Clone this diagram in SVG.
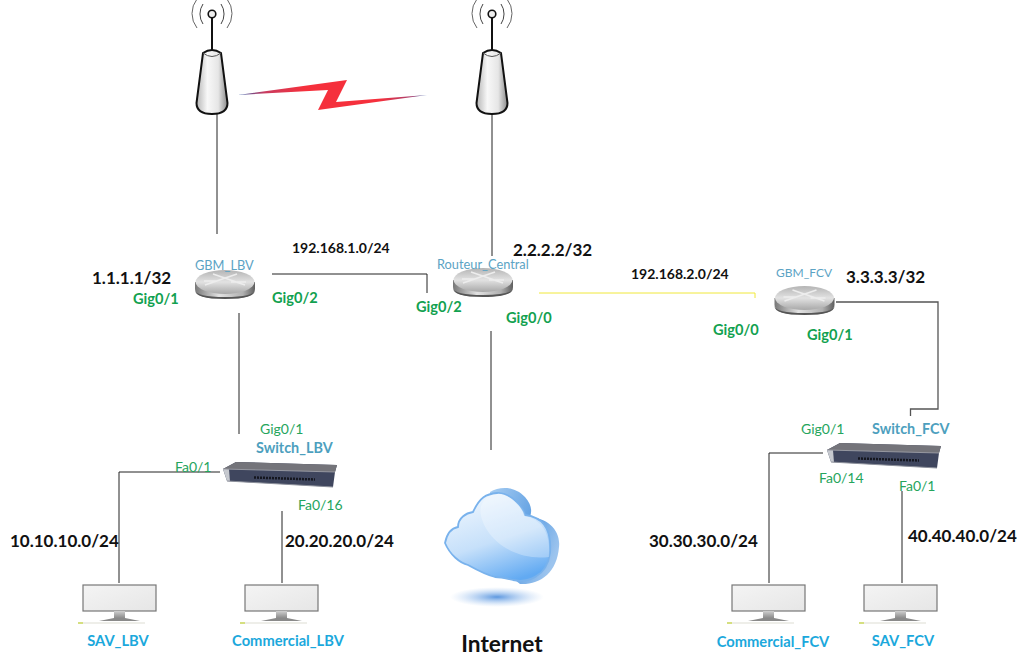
<svg xmlns="http://www.w3.org/2000/svg" width="1026" height="672" viewBox="0 0 1026 672">
<style>
text{font-family:Lato,"Noto Sans","Liberation Sans",sans-serif}
.ip{font-size:17px;font-weight:700;fill:#111}
.net{font-size:14px;font-weight:700;fill:#111}
.gig{font-size:14.600px;font-weight:700;fill:#12a150}
.port{font-size:14px;fill:#25a55c}
.name{font-size:14.700px;font-weight:700;fill:#1ba8dc}
.sw{font-size:14.400px;font-weight:700;fill:#4d9fbe}
.rt{font-size:12.800px;fill:#5ba3c4}
.ln{fill:none;stroke:#222;stroke-width:1}
</style>
<defs>
<linearGradient id="bodyG" x1="0" x2="1" y1="0" y2="0"><stop offset="0" stop-color="#b5b5b5"/><stop offset=".35" stop-color="#f8f8f8"/><stop offset=".7" stop-color="#e6e6e6"/><stop offset="1" stop-color="#8a8a8a"/></linearGradient>
<linearGradient id="rtop" x1="0" x2="0" y1="0" y2="1"><stop offset="0" stop-color="#b4b4b4"/><stop offset=".5" stop-color="#e2e2e2"/><stop offset="1" stop-color="#a8a8a8"/></linearGradient>
<linearGradient id="rside" x1="0" x2="1" y1="0" y2="0"><stop offset="0" stop-color="#777"/><stop offset=".4" stop-color="#e2e2e2"/><stop offset=".8" stop-color="#b0b0b0"/><stop offset="1" stop-color="#5e5e5e"/></linearGradient>
<linearGradient id="scr" x1="0" x2="1" y1="0" y2="1"><stop offset="0" stop-color="#f4f4f4"/><stop offset="1" stop-color="#e6e6e6"/></linearGradient>
<linearGradient id="stand" x1="0" x2="0" y1="0" y2="1"><stop offset="0" stop-color="#cfcfcf"/><stop offset="1" stop-color="#8b8b8b"/></linearGradient>
<linearGradient id="cloudF" x1="0.25" x2="0.65" y1="0" y2="1"><stop offset="0" stop-color="#f0f7fe"/><stop offset=".55" stop-color="#c6e0fa"/><stop offset="1" stop-color="#62aaf2"/></linearGradient>
<linearGradient id="cloudB" x1="0" x2="1" y1="0" y2="0.6"><stop offset="0" stop-color="#a7cdf2"/><stop offset=".6" stop-color="#5f9fe2"/><stop offset="1" stop-color="#9cc4ee"/></linearGradient>
<linearGradient id="bolt" x1="0" x2="1" y1="0" y2="0"><stop offset="0" stop-color="#2a5aa8"/><stop offset=".14" stop-color="#c83c60"/><stop offset=".35" stop-color="#f5303c"/><stop offset=".75" stop-color="#f5303c"/><stop offset=".92" stop-color="#a84070"/><stop offset="1" stop-color="#2a5aa8"/></linearGradient>
<radialGradient id="shadow"><stop offset="0" stop-color="#5d98e0"/><stop offset=".5" stop-color="#a9c9f0" stop-opacity=".7"/><stop offset="1" stop-color="#c8dcf5" stop-opacity="0"/></radialGradient>
<g id="tower">
<path d="M-9 4A18 18 0 0 0-9 24M9 4A18 18 0 0 1 9 24" fill="none" stroke="#444" stroke-width="1"/>
<path d="M-15-1A23.500 23.500 0 0 0-15 28M15-1A23.500 23.500 0 0 1 15 28" fill="none" stroke="#666" stroke-width="1"/>
<path d="M0 18V51" stroke="#111" stroke-width="2"/>
<circle cx="0" cy="14" r="3.800" fill="#eee" stroke="#111" stroke-width="1.600"/>
<path d="M-9 53Q0 47 9 53L15.500 103Q15.500 114 0 114Q-15.500 114-15.500 103Z" fill="url(#bodyG)" stroke="#111" stroke-width="2"/>
<path d="M-9 53Q0 60 9 53" fill="none" stroke="#555"/>
</g>
<g id="router">
<path d="M-30 0V7Q-30 17 0 17Q30 17 30 7V0Z" fill="url(#rside)"/>
<path d="M-30 8Q-30 17 0 17Q30 17 30 8Q29 15 0 15Q-29 15-30 8Z" fill="#555"/>
<ellipse cx="0" cy="0" rx="29.500" ry="12" fill="url(#rtop)"/>
<path d="M-20 3L12-8M-12-8L20 3M-21-1H-8M6 0H21" stroke="#ededed" stroke-width="1.500" fill="none"/>
</g>
<g id="switch">
<path d="M0 7L13 0L114 3L112 10L110 25L4 19Z" fill="#3f465e"/>
<path d="M0 7L13 0L114 3L112 10Z" fill="#74747a"/>
<path d="M0 7L6 7.200L7 19.500L4 19Z" fill="#c6c9cf"/>
<path d="M0 7L112 10" stroke="#a4a6ad" stroke-width=".8"/>
<path d="M31 15.500L92 17.500" stroke="#14161f" stroke-width="2.500" stroke-dasharray="2 1"/>
<path d="M4 19L110 25" fill="none" stroke="#8b8f9a"/>
</g>
<g id="pc">
<rect x="0" y="0" width="73" height="26" fill="url(#scr)" stroke="#777" stroke-width="1.200"/>
<rect x="31" y="26" width="11" height="7" fill="url(#stand)"/>
<path d="M16 36L31 33H42L57 36Z" fill="#8a8a8a"/>
<path d="M-5 38H62" stroke="#e8e8e2" stroke-width="1.500"/>
<path d="M-5 38H0" stroke="#d5df80" stroke-width="2"/>
</g>
</defs>
<rect width="1026" height="672" fill="#fff"/>

<g id="connectors" fill="none">
<path class="ln" d="M217 114V234"/>
<path class="ln" d="M492 114V256"/>
<path class="ln" d="M272 274H427V293"/>
<path d="M539 293H755V298" stroke="#f0e83a" stroke-width="1"/>
<path d="M836 302H938V409H910.500V416" stroke="#555" stroke-width="1.300"/>
<path class="ln" d="M239 313V434"/>
<path class="ln" d="M491 331V450"/>
<path class="ln" d="M220 472H119V583"/>
<path class="ln" d="M282 511V583"/>
<path class="ln" d="M823 453H769V583"/>
<path class="ln" d="M902 491V583"/>
</g>

<g id="wireless"><polygon points="238,95 347,80 336,102 427,95 318,110 328,90" fill="url(#bolt)"/></g>

<g id="tower-lbv"><use href="#tower" x="212" y="0"/></g>
<g id="tower-central"><use href="#tower" x="492" y="0"/></g>

<g id="GBM_LBV"><use href="#router" x="225" y="282"/><text class="rt" x="195" y="270">GBM_LBV</text></g>
<g id="Routeur_Central"><use href="#router" x="483" y="280"/><text class="rt" x="437" y="269">Routeur_Central</text></g>
<g id="GBM_FCV"><use href="#router" x="804.500" y="298"/><text class="rt" x="776" y="277" style="font-size:12px">GBM_FCV</text></g>

<g id="Switch_LBV"><use href="#switch" x="223" y="462"/><text class="sw" x="256" y="453">Switch_LBV</text></g>
<g id="Switch_FCV"><use href="#switch" x="827" y="443"/><text class="sw" x="872" y="434">Switch_FCV</text></g>

<g id="SAV_LBV"><use href="#pc" x="83" y="585"/><text class="name" x="118" y="646" text-anchor="middle">SAV_LBV</text></g>
<g id="Commercial_LBV"><use href="#pc" x="245" y="585"/><text class="name" x="288" y="646" text-anchor="middle">Commercial_LBV</text></g>
<g id="Commercial_FCV"><use href="#pc" x="732" y="585"/><text class="name" x="773" y="647" text-anchor="middle">Commercial_FCV</text></g>
<g id="SAV_FCV"><use href="#pc" x="864" y="585"/><text class="name" x="903" y="646" text-anchor="middle">SAV_FCV</text></g>

<g id="Internet">
<ellipse cx="497" cy="597" rx="47" ry="10" fill="url(#shadow)"/>
<path d="M490 492C500 486 515 486 525 497C532 505 532 512 530 517C547 518 561 530 559 547C557 573 540 585 520 584L490 560Z" fill="url(#cloudB)"/>
<path d="M445 543C447 533 452 528 458 527C458 518 466 513 473 512C480 497 486 494 497 493C510 492 523 507 525 515C543 517 552 530 550 553C547 577 527 583 513 580C505 578 499 577 495 577C487 575 477 570 468 565C460 563 450 555 445 543Z" fill="url(#cloudF)" stroke="#79b2ec" stroke-width="1.800"/>
<path d="M487 530C500 550 525 560 549 557C551 535 543 520 525 516C523 507 510 494 497 494C480 497 475 510 487 530Z" fill="#fff" opacity=".28"/>
<text x="502" y="652" text-anchor="middle" font-size="22.700" font-weight="700" fill="#111">Internet</text>
</g>

<g id="labels">
<text class="ip" x="92" y="284">1.1.1.1/32</text>
<text class="ip" x="513" y="256">2.2.2.2/32</text>
<text class="ip" x="846" y="283">3.3.3.3/32</text>
<text class="net" x="292" y="253">192.168.1.0/24</text>
<text class="net" x="631" y="279">192.168.2.0/24</text>
<text class="gig" x="133" y="304">Gig0/1</text>
<text class="gig" x="272" y="303">Gig0/2</text>
<text class="gig" x="416" y="312">Gig0/2</text>
<text class="gig" x="506" y="323">Gig0/0</text>
<text class="gig" x="713" y="335">Gig0/0</text>
<text class="gig" x="807" y="340">Gig0/1</text>
<text class="port" x="260" y="434">Gig0/1</text>
<text class="port" x="175" y="472">Fa0/1</text>
<text class="port" x="298" y="510">Fa0/16</text>
<text class="port" x="801" y="434">Gig0/1</text>
<text class="port" x="819" y="483">Fa0/14</text>
<text class="port" x="899" y="491">Fa0/1</text>
<text class="ip" x="10" y="547">10.10.10.0/24</text>
<text class="ip" x="285" y="547">20.20.20.0/24</text>
<text class="ip" x="649" y="547">30.30.30.0/24</text>
<text class="ip" x="908" y="542">40.40.40.0/24</text>
</g>
</svg>
